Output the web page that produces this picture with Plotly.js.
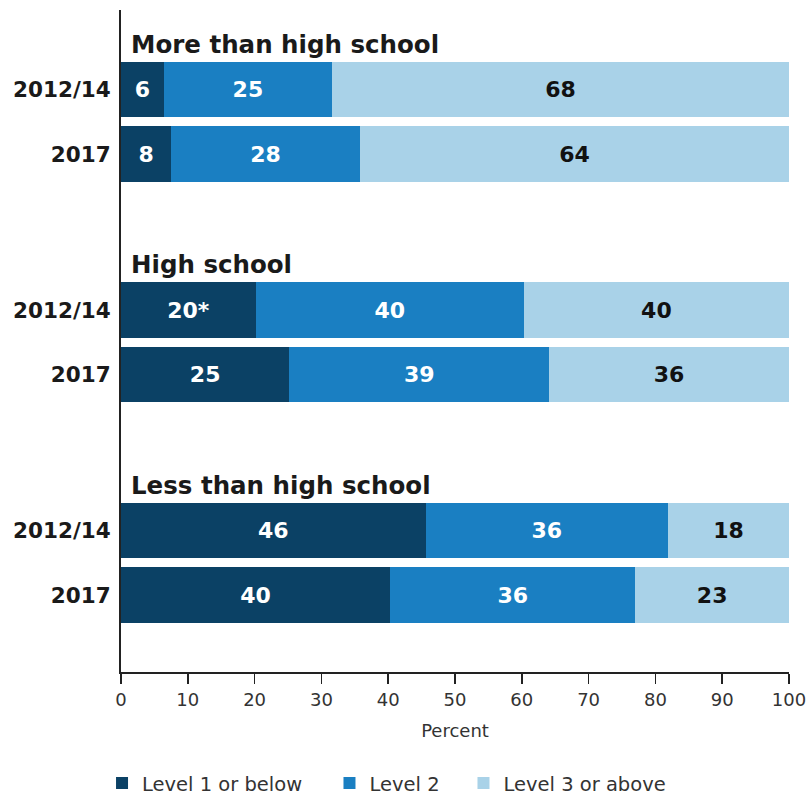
<!DOCTYPE html>
<html>
<head>
<meta charset="utf-8">
<script src="https://cdn.plot.ly/plotly-3.0.1.min.js"></script>
<style>html,body{margin:0;padding:0;background:#fff;}</style>
</head>
<body>
<div id="chart" style="width:809px;height:797px;"></div>
<script>
// ---- data ----
const groups = ["More than high school", "High school", "Less than high school"];
const periods = ["2012/14", "2017"];
const level1 = [6.4, 7.5, 20.2, 25.2, 45.6, 40.3];
const level2 = [25.2, 28.3, 40.1, 38.9, 36.3, 36.7];
const level3 = [68.4, 64.2, 39.7, 35.9, 18.1, 23.0];
const labels1 = ["6", "8", "20*", "25", "46", "40"];
const labels2 = ["25", "28", "40", "39", "36", "36"];
const labels3 = ["68", "64", "40", "36", "18", "23"];
const seriesNames = ["Level 1 or below", "Level 2", "Level 3 or above"];
const xTicks = [0, 10, 20, 30, 40, 50, 60, 70, 80, 90, 100];

// ---- layout helpers ----
const GROUP_STEP = 3.415;
const pos = [];
const tickText = [];
groups.forEach((g, gi) => {
  periods.forEach((p, pi) => {
    pos.push(gi * GROUP_STEP + pi);
    tickText.push(p);
  });
});

const FONT = "DejaVu Sans";
const colors = ["#0b4165", "#1a7fc2", "#a9d2e8"];
const textColors = ["#ffffff", "#ffffff", "#111111"];
const vals = [level1, level2, level3];
const labs = [labels1, labels2, labels3];
const legendIds = ["legend", "legend2", "legend3"];
const legendX = [-0.0284, 0.3121, 0.5127];

const traces = vals.map((v, i) => ({
  type: "bar",
  orientation: "h",
  name: seriesNames[i],
  legend: legendIds[i],
  x: v,
  y: pos,
  width: 0.86,
  text: labs[i],
  textposition: "inside",
  insidetextanchor: "middle",
  textangle: 0,
  constraintext: "none",
  insidetextfont: {family: FONT, size: 22, color: textColors[i], weight: "bold"},
  marker: {color: colors[i], line: {width: 0}},
  hoverinfo: "skip"
}));

const annotations = groups.map((g, gi) => ({
  text: g,
  x: 0, xref: "x", xanchor: "left", xshift: 8,
  y: gi * GROUP_STEP - 0.7, yref: "y", yanchor: "middle",
  showarrow: false,
  font: {family: FONT, size: 24.5, color: "#1a1a1a", weight: "bold"}
}));

const layout = {
  width: 809, height: 797,
  margin: {l: 121, r: 20, t: 10, b: 125, autoexpand: false},
  paper_bgcolor: "#ffffff",
  plot_bgcolor: "#ffffff",
  barmode: "stack",
  bargap: 0,
  showlegend: true,
  xaxis: {
    range: [0, 100],
    tickvals: xTicks,
    ticks: "outside", ticklen: 10, tickwidth: 1.5, tickcolor: "#222",
    showline: true, linecolor: "#222", linewidth: 2,
    showgrid: false, zeroline: false,
    tickfont: {family: FONT, size: 18, color: "#333"},
    title: {text: "Percent", font: {family: FONT, size: 18, color: "#333"}, standoff: 16}
  },
  yaxis: {
    range: [2 * GROUP_STEP + 1 + 1.189, -1.231],
    tickvals: pos,
    ticktext: tickText,
    ticks: "",
    ticklabelstandoff: 4,
    showline: true, linecolor: "#222", linewidth: 2,
    showgrid: false, zeroline: false,
    tickfont: {family: FONT, size: 21.5, color: "#1a1a1a", weight: "bold"}
  },
  annotations: annotations
};

legendIds.forEach((id, i) => {
  layout[id] = {
    orientation: "h",
    x: legendX[i], xanchor: "left",
    y: -0.168, yanchor: "middle",
    font: {family: FONT, size: 19.5, color: "#333333"},
    bgcolor: "rgba(0,0,0,0)",
    itemclick: false
  };
});

Plotly.newPlot("chart", traces, layout, {displayModeBar: false, staticPlot: true});
</script>
</body>
</html>
